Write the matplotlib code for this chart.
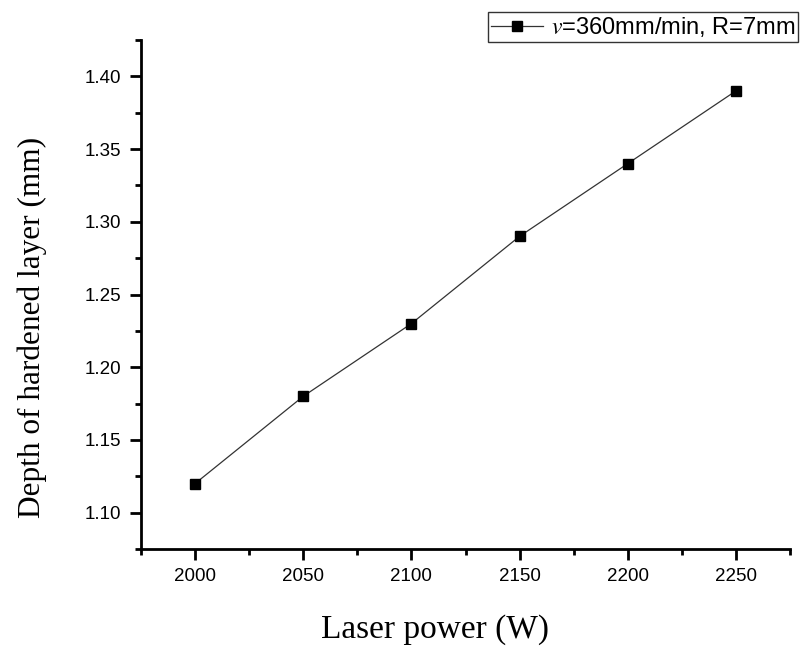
import matplotlib
matplotlib.use("Agg")
import matplotlib.pyplot as plt
from matplotlib.ticker import MultipleLocator

power = [2000, 2050, 2100, 2150, 2200, 2250]
depth = [1.12, 1.18, 1.23, 1.29, 1.34, 1.39]
x_ticks = [2000, 2050, 2100, 2150, 2200, 2250]
y_ticks = [1.10, 1.15, 1.20, 1.25, 1.30, 1.35, 1.40]

plt.rcParams['mathtext.fontset'] = 'stix'
fig = plt.figure(figsize=(8.02, 6.46), dpi=100)
ax = fig.add_axes([141/802, 1-549/646, (790-141)/802, (549-40)/646])

ax.plot(power, depth, color='#333333', linewidth=0.9, marker='s',
        markersize=7.8, markerfacecolor='black', markeredgecolor='black',
        label=r'$\mathit{v}$=360mm/min, R=7mm')

ax.set_xlim(1975, 2275)
ax.set_ylim(1.075, 1.425)
ax.set_xticks(x_ticks)
ax.set_yticks(y_ticks)
ax.set_xticklabels([str(v) for v in x_ticks])
ax.set_yticklabels([f"{v:.2f}" for v in y_ticks])
ax.xaxis.set_minor_locator(MultipleLocator(25))
ax.yaxis.set_minor_locator(MultipleLocator(0.025))

for s in ['top', 'right']:
    ax.spines[s].set_visible(False)
for s in ['left', 'bottom']:
    ax.spines[s].set_linewidth(2)
ax.tick_params(which='major', direction='out', length=8, width=2,
               labelsize=13.5, labelfontfamily='Liberation Sans', pad=6)
ax.tick_params(which='minor', direction='out', length=4, width=2)

ax.set_xlabel('Laser power (W)', fontfamily='Liberation Serif', fontsize=24, labelpad=21)
ax.set_ylabel('Depth of hardened layer (mm)', fontfamily='Liberation Serif', fontsize=22.5, labelpad=27)
ax.xaxis.label.set_x((435 - 141) / 649)
ax.yaxis.label.set_y((549 - 327) / 509)

leg = fig.legend(loc='upper left', bbox_to_anchor=(488/802, 1-12/646),
                 bbox_transform=fig.transFigure, frameon=True, fancybox=False,
                 prop={'family': 'Liberation Sans', 'size': 17},
                 borderpad=0.12, handlelength=2.2, handletextpad=0.35,
                 borderaxespad=0)
leg.get_frame().set_edgecolor('black')
leg.get_frame().set_linewidth(1)

fig.savefig('out.png', dpi=100)
